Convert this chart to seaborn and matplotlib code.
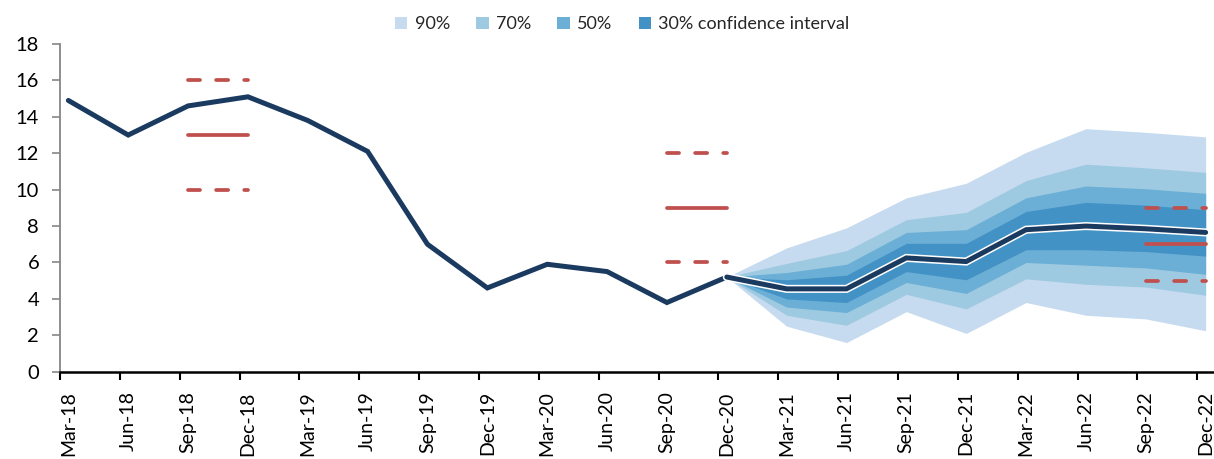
import numpy as np
import pandas as pd
import matplotlib
matplotlib.use("Agg")
import matplotlib.pyplot as plt
import matplotlib.patheffects as pe
from matplotlib.patches import Patch
import seaborn as sns

# ---------------- data ----------------
quarters = ["Mar-18", "Jun-18", "Sep-18", "Dec-18", "Mar-19", "Jun-19", "Sep-19", "Dec-19",
            "Mar-20", "Jun-20", "Sep-20", "Dec-20", "Mar-21", "Jun-21", "Sep-21", "Dec-21",
            "Mar-22", "Jun-22", "Sep-22", "Dec-22"]
actual = [14.9, 13.0, 14.6, 15.1, 13.8, 12.1, 7.0, 4.6, 5.9, 5.5, 3.8, 5.2]

forecast_quarters = ["Dec-20", "Mar-21", "Jun-21", "Sep-21", "Dec-21",
                     "Mar-22", "Jun-22", "Sep-22", "Dec-22"]
central = [5.2, 4.55, 4.55, 6.25, 6.05, 7.8, 8.0, 7.85, 7.65]
upper90 = [5.2, 6.8, 7.9, 9.55, 10.35, 12.05, 13.35, 13.15, 12.9]
lower90 = [5.2, 2.5, 1.6, 3.3, 2.1, 3.8, 3.1, 2.9, 2.25]
upper70 = [5.2, 5.95, 6.65, 8.35, 8.75, 10.5, 11.4, 11.2, 10.95]
lower70 = [5.2, 3.1, 2.55, 4.25, 3.45, 5.1, 4.8, 4.65, 4.2]
upper50 = [5.2, 5.45, 5.9, 7.65, 7.8, 9.55, 10.2, 10.05, 9.8]
lower50 = [5.2, 3.55, 3.25, 4.9, 4.3, 6.0, 5.85, 5.7, 5.35]
upper30 = [5.2, 5.05, 5.3, 7.05, 7.05, 8.8, 9.3, 9.15, 8.9]
lower30 = [5.2, 4.0, 3.8, 5.5, 5.05, 6.7, 6.7, 6.6, 6.35]
band_labels = ["90%", "70%", "50%", "30% confidence interval"]

target_start = ["Sep-18", "Sep-20", "Sep-22"]
target_end = ["Dec-18", "Dec-20", "Dec-22"]
target_mid = [13, 9, 7]
target_high = [16, 12, 9]
target_low = [10, 6, 5]

yticks = [0, 2, 4, 6, 8, 10, 12, 14, 16, 18]

# ---------------- style ----------------
sns.set_theme(style="white")
plt.rcParams["font.family"] = ["Lato", "DejaVu Sans"]

navy = "#1b3a5f"
red = "#c0504d"
band_colors = ["#c6dbef", "#9ecae1", "#6baed6", "#4292c6"]

pos = {q: i for i, q in enumerate(quarters)}
df_hist = pd.DataFrame({"pos": [pos[q] for q in quarters[:len(actual)]], "value": actual})
df_fc = pd.DataFrame({"pos": [pos[q] for q in forecast_quarters], "value": central})

fig = plt.figure(figsize=(12.14, 4.59), dpi=100)
ax = fig.add_axes([0.0494, 0.1902, 1 - 0.0494, 0.7139])

# fan chart
fx = df_fc["pos"].values
bands = [(upper90, lower90), (upper70, lower70), (upper50, lower50), (upper30, lower30)]
for (up, lo), col in zip(bands, band_colors):
    ax.fill_between(fx, lo, up, color=col, lw=0, zorder=1)

# historical line
sns.lineplot(data=df_hist, x="pos", y="value", color=navy, lw=3.6, ax=ax, zorder=4,
             legend=False, solid_capstyle="round", solid_joinstyle="miter")

# target ranges
for s, e, m, h, l in zip(target_start, target_end, target_mid, target_high, target_low):
    xs = [pos[s], pos[e]]
    ax.plot(xs, [m, m], color=red, lw=2.7, solid_capstyle="round", zorder=3)
    for yv in (h, l):
        ax.plot(xs, [yv, yv], color=red, lw=2.7, dashes=(3.2, 4.3),
                dash_capstyle="round", zorder=3)

# forecast central line with white outline
sns.lineplot(data=df_fc, x="pos", y="value", color=navy, lw=3.6, ax=ax, zorder=5,
             legend=False, solid_capstyle="round", solid_joinstyle="miter")
ax.lines[-1].set_path_effects([pe.Stroke(linewidth=5.8, foreground="white"), pe.Normal()])

# axes
ax.set_xlim(-0.14, 19.14)
ax.set_ylim(0, 18)
ax.set_yticks(yticks)
ax.set_yticklabels([str(v) for v in yticks])
ax.set_xticks(range(len(quarters)))
ax.set_xticklabels(quarters, rotation=90, va="top", ha="center")
ax.set_xticks(np.arange(len(quarters)) - 0.14, minor=True)
ax.set_xlabel("")
ax.set_ylabel("")

for side in ["top", "right"]:
    ax.spines[side].set_visible(False)
ax.spines["left"].set_color("#868686")
ax.spines["left"].set_linewidth(1.3)
ax.spines["bottom"].set_color("black")
ax.spines["bottom"].set_linewidth(1.8)
ax.spines["left"].set_zorder(0)

ax.tick_params(axis="y", which="major", left=True, length=6, width=1.2, color="#868686",
               labelsize=14.5, pad=9, labelcolor="black")
ax.tick_params(axis="x", which="major", bottom=True, length=0, labelsize=14, pad=14,
               labelcolor="black")
ax.tick_params(axis="x", which="minor", bottom=True, length=6, width=1.5, color="black")

handles = [Patch(facecolor=c, edgecolor="none", label=l) for c, l in zip(band_colors, band_labels)]
fig.legend(handles=handles, loc="upper center", bbox_to_anchor=(0.5125, 1.0), ncol=4,
           frameon=False, fontsize=13, handlelength=0.7, handleheight=0.7,
           handletextpad=0.4, columnspacing=1.45)

fig.savefig("out.png", dpi=100)
